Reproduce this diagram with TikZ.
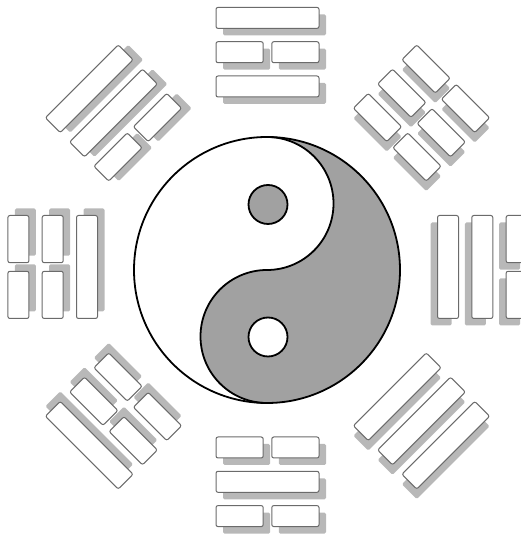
\documentclass[tikz,border=0pt]{standalone}
\definecolor{yy}{gray}{0.63}
\definecolor{shd}{gray}{0.72}
\definecolor{edgegray}{gray}{0.42}
\tikzset{
  shadowbar/.style={fill=shd, rounded corners=1.5pt},
  bar/.style={fill=white, draw=edgegray, line width=1pt, rounded corners=2pt},
  yyline/.style={draw=black, line width=1.8pt}
}
\newcommand\tline[3]{%
  \ifnum#1=1
    \path[#3] (-51.5,#2) rectangle (51.5,#2+21);
  \else
    \path[#3] (-51.5,#2) rectangle (-4.3,#2+21);
    \path[#3] (4.3,#2) rectangle (51.5,#2+21);
  \fi}
% #1 rotation, #2 #3 shadow offset, #4 #5 #6 lines (inner to outer), #7 inner radius
\newcommand\trigram[7]{%
  \begin{scope}[shift={(267.5,273)},shift={(#2,#3)},rotate=#1]
    \tline{#4}{#7}{shadowbar}\tline{#5}{#7+34.3}{shadowbar}\tline{#6}{#7+68.6}{shadowbar}
  \end{scope}
  \begin{scope}[shift={(267.5,273)},rotate=#1]
    \tline{#4}{#7}{bar}\tline{#5}{#7+34.3}{bar}\tline{#6}{#7+68.6}{bar}
  \end{scope}}
\begin{document}
\begin{tikzpicture}[x=1pt,y=1pt]
\useasboundingbox (0,0) rectangle (520,540);
\trigram{0}{7}{-7}{1}{0}{1}{170}
\trigram{-45}{0}{-10}{0}{0}{0}{173}
\trigram{-90}{-7}{-7}{1}{1}{0}{170}
\trigram{-135}{0}{-10}{1}{1}{1}{173}
\trigram{180}{7}{-7}{0}{1}{0}{170}
\trigram{135}{0}{10}{0}{0}{1}{173}
\trigram{90}{7}{7}{1}{0}{0}{170}
\trigram{45}{10}{0}{0}{1}{1}{173}
% yin-yang
\fill[white] (267,270) circle[radius=133];
\fill[yy] (267,403) arc[start angle=90, end angle=-90, radius=133]
  arc[start angle=-90, end angle=-270, radius=66.5]
  arc[start angle=-90, end angle=90, radius=66.5] -- cycle;
\draw[yyline] (267,137) arc[start angle=-90, end angle=-270, radius=66.5]
  arc[start angle=-90, end angle=90, radius=66.5];
\draw[yyline] (267,270) circle[radius=133];
\draw[yyline, fill=yy] (268,335.5) circle[radius=19.5];
\draw[yyline, fill=white] (268,203) circle[radius=19.5];
\end{tikzpicture}
\end{document}
